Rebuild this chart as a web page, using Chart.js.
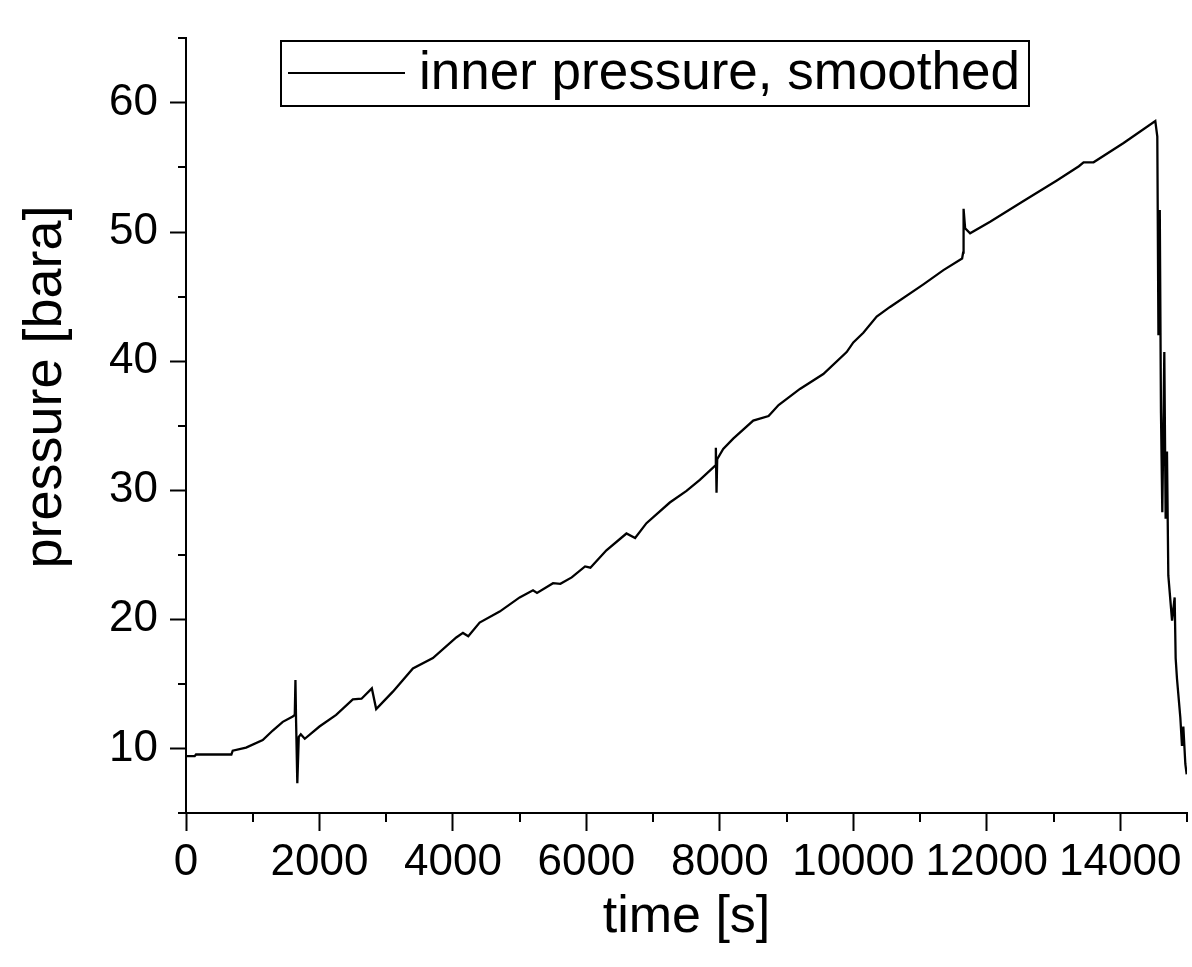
<!DOCTYPE html>
<html>
<head>
<meta charset="utf-8">
<title>inner pressure, smoothed</title>
<script src="https://cdn.jsdelivr.net/npm/chart.js@4.4.1/dist/chart.umd.min.js"></script>
<style>
  html, body { margin: 0; padding: 0; background: #fff; }
  #wrap { width: 1192px; height: 967px; }
</style>
</head>
<body>
<div id="wrap"><canvas id="pressureChart" width="1192" height="967"></canvas></div>
<script>
// values: time [s] vs. smoothed inner pressure [bara]
const timeS = [
    0, 130, 150, 680, 700, 900, 1150, 1300, 1450, 1600, 1630,
    1640, 1650, 1668, 1690, 1720, 1780, 2000, 2250, 2500, 2630,
    2785, 2850, 3100, 3400, 3700, 4050, 4150, 4230, 4400, 4700,
    5000, 5200, 5260, 5500, 5610, 5780, 5980, 6060, 6300, 6600,
    6730, 6900, 7250, 7500, 7700, 7930, 7940, 7950, 7960, 8050,
    8200, 8500, 8730, 8880, 9200, 9550, 9900, 10000, 10150, 10350,
    10550, 11050, 11350, 11630, 11645, 11652, 11675, 11750, 12050, 12550,
    13050, 13380, 13450, 13600, 14050, 14525, 14555, 14572, 14592, 14610,
    14630, 14660, 14680, 14700, 14720, 14776, 14815, 14830, 14850, 14900,
    14925, 14945, 14975, 14995
];
const pressureBar = [
    9.40, 9.40, 9.53, 9.53, 9.83, 10.07, 10.65, 11.39, 12.06, 12.48, 12.6,
    15.3, 12.0, 7.3, 10.9, 11.1, 10.75, 11.7, 12.6, 13.8, 13.85,
    14.65, 13.05, 14.4, 16.2, 17.0, 18.6, 18.95, 18.7, 19.75, 20.6,
    21.7, 22.25, 22.05, 22.8, 22.75, 23.25, 24.1, 24.0, 25.35, 26.65,
    26.3, 27.45, 29.05, 29.95, 30.8, 31.9, 33.3, 29.8, 32.4, 33.2,
    34.0, 35.4, 35.75, 36.6, 37.85, 39.0, 40.7, 41.45, 42.2, 43.45,
    44.2, 45.95, 47.05, 47.95, 48.4, 51.8, 50.3, 49.9, 50.8, 52.4,
    54.0, 55.1, 55.4, 55.4, 56.9, 58.6, 57.4, 42.0, 51.7, 36.0,
    28.3, 40.7, 27.8, 33.0, 23.4, 19.9, 21.7, 17.0, 15.4, 12.4,
    10.2, 11.7, 8.8, 8.0
];

const seriesLabel = 'inner pressure, smoothed';
const xTitle = 'time [s]';
const yTitle = 'pressure [bara]';

const xMajorTicks = [0, 2000, 4000, 6000, 8000, 10000, 12000, 14000];
const xMinorTicks = [1000, 3000, 5000, 7000, 9000, 11000, 13000, 15000];
const yMajorTicks = [10, 20, 30, 40, 50, 60];
const yMinorTicks = [5, 15, 25, 35, 45, 55, 65];

const FONT = "'Liberation Sans', Arial, sans-serif";

// short ticks between the labelled ones
const minorTicksPlugin = {
    id: 'minorTicks',
    afterDraw(chart) {
        const ctx = chart.ctx;
        const xs = chart.scales.x;
        const ys = chart.scales.y;
        ctx.save();
        ctx.strokeStyle = '#000';
        ctx.lineWidth = 2;
        ctx.beginPath();
        xMinorTicks.forEach(v => {
            const px = Math.round(xs.getPixelForValue(v));
            ctx.moveTo(px, xs.top);
            ctx.lineTo(px, xs.top + 9);
        });
        yMinorTicks.forEach(v => {
            const py = Math.round(ys.getPixelForValue(v));
            ctx.moveTo(ys.right, py);
            ctx.lineTo(ys.right - 8, py);
        });
        ctx.stroke();
        ctx.restore();
    }
};

// boxed legend inside the plot + rotated y title
const framePlugin = {
    id: 'frame',
    afterDraw(chart) {
        const ctx = chart.ctx;
        ctx.save();

        // legend box
        ctx.strokeStyle = '#000';
        ctx.lineWidth = 2;
        ctx.strokeRect(281, 41, 748, 65);
        ctx.beginPath();
        ctx.moveTo(288, 73);
        ctx.lineTo(405, 73);
        ctx.stroke();
        ctx.fillStyle = '#000';
        ctx.font = '53px ' + FONT;
        ctx.textAlign = 'left';
        ctx.textBaseline = 'middle';
        ctx.fillText(chart.data.datasets[0].label, 419, 74);

        // y axis title
        ctx.font = '54px ' + FONT;
        ctx.translate(61, 387);
        ctx.rotate(-Math.PI / 2);
        ctx.textAlign = 'center';
        ctx.textBaseline = 'alphabetic';
        ctx.fillText(yTitle, 0, 0);
        ctx.restore();
    }
};

Chart.defaults.font.family = FONT;
Chart.defaults.color = '#000';

const ctx = document.getElementById('pressureChart').getContext('2d');
const chart = new Chart(ctx, {
    type: 'line',
    data: {
        datasets: [{
            label: seriesLabel,
            data: timeS.map((t, i) => ({ x: t, y: pressureBar[i] })),
            borderColor: '#000',
            borderWidth: 2.3,
            pointRadius: 0,
            tension: 0,
            fill: false
        }]
    },
    options: {
        responsive: false,
        animation: false,
        devicePixelRatio: 1,
        layout: { padding: { top: 9, right: 5, bottom: 0, left: 0 } },
        plugins: {
            legend: { display: false },
            tooltip: { enabled: false }
        },
        scales: {
            x: {
                type: 'linear',
                min: 0,
                max: 15000,
                afterBuildTicks: (scale) => {
                    scale.ticks = xMajorTicks.map(v => ({ value: v }));
                },
                afterFit: (scale) => { scale.height = 154; },
                ticks: {
                    font: { size: 44 },
                    padding: 5,
                    maxRotation: 0,
                    autoSkip: false,
                    callback: (value) => String(value)
                },
                grid: {
                    drawOnChartArea: false,
                    tickLength: 18,
                    tickWidth: 2,
                    tickColor: '#000'
                },
                border: { display: true, color: '#000', width: 2 },
                title: {
                    display: true,
                    text: xTitle,
                    font: { size: 52 },
                    padding: { top: 0, bottom: 18 }
                }
            },
            y: {
                type: 'linear',
                min: 5,
                max: 65,
                afterBuildTicks: (scale) => {
                    scale.ticks = yMajorTicks.map(v => ({ value: v }));
                },
                afterFit: (scale) => { scale.width = 186; },
                ticks: {
                    font: { size: 44 },
                    padding: 12,
                    autoSkip: false
                },
                grid: {
                    drawOnChartArea: false,
                    tickLength: 16,
                    tickWidth: 2,
                    tickColor: '#000'
                },
                border: { display: true, color: '#000', width: 2 }
            }
        }
    },
    plugins: [minorTicksPlugin, framePlugin]
});
</script>
</body>
</html>
